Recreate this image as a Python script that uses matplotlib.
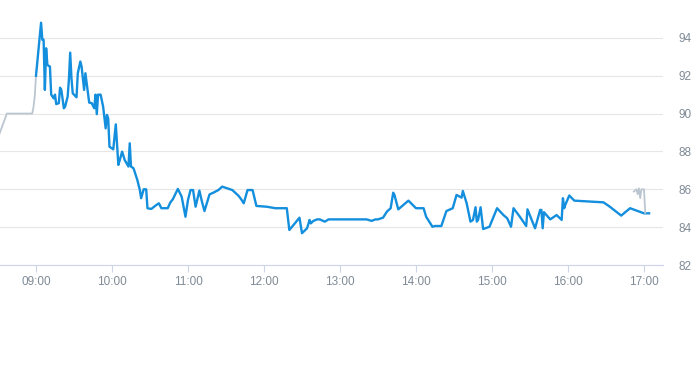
import matplotlib
matplotlib.use("Agg")
import matplotlib.pyplot as plt
import matplotlib.dates as mdates
import pandas as pd

# pre-market / after-hours part (grey)
pre_times = ["08:31", "08:37", "08:57", "08:58", "08:59", "09:00"]
pre_values = [88.9, 90.0, 90.0, 90.33, 90.9, 92.0]

post_times = ["16:52", "16:54", "16:55", "16:56", "16:57", "16:58", "17:00", "17:01"]
post_values = [85.88, 86.0, 85.74, 86.05, 85.53, 86.0, 86.0, 84.75]

# regular session (blue)
times = [
    "09:00", "09:04", "09:05", "09:06", "09:07", "09:08", "09:09", "09:11", "09:12", "09:14",
    "09:15", "09:16", "09:18", "09:19", "09:20", "09:22", "09:23", "09:25", "09:26", "09:27",
    "09:28", "09:29", "09:32", "09:33", "09:35", "09:36", "09:38", "09:39", "09:41", "09:42",
    "09:44", "09:46", "09:47", "09:48", "09:49", "09:51", "09:53", "09:55", "09:56", "09:57",
    "09:58", "10:01", "10:03", "10:05", "10:06", "10:08", "10:10", "10:13", "10:14", "10:15",
    "10:17", "10:20", "10:22", "10:23", "10:25", "10:27", "10:28", "10:31", "10:35", "10:37",
    "10:39", "10:44", "10:46", "10:48", "10:52", "10:55", "10:57", "10:58", "11:00", "11:02",
    "11:04", "11:06", "11:09", "11:11", "11:13", "11:17", "11:20", "11:24", "11:27", "11:31",
    "11:35", "11:40", "11:42", "11:44", "11:47", "11:51", "11:54", "12:02", "12:09", "12:18",
    "12:20", "12:24", "12:28", "12:30", "12:34", "12:36", "12:37", "12:39", "12:42", "12:44",
    "12:48", "12:51", "13:21", "13:25", "13:28", "13:30", "13:34", "13:37", "13:40", "13:42",
    "13:43", "13:46", "13:50", "13:54", "14:00", "14:06", "14:08", "14:13", "14:15", "14:20",
    "14:24", "14:29", "14:32", "14:36", "14:37", "14:40", "14:43", "14:45", "14:47", "14:48",
    "14:49", "14:51", "14:53", "14:58", "15:04", "15:09", "15:12", "15:15", "15:17", "15:22",
    "15:27", "15:28", "15:34", "15:38", "15:39", "15:40", "15:41", "15:46", "15:51", "15:55",
    "15:56", "15:57", "15:58", "16:01", "16:05", "16:28", "16:33", "16:42", "16:49", "17:00",
    "17:04",
]
values = [
    92.0, 94.8, 93.9, 93.9, 91.25, 93.45, 92.57, 92.48, 91.0, 90.8,
    91.0, 90.5, 90.55, 91.37, 91.25, 90.28, 90.37, 90.9, 91.83, 93.22,
    91.87, 91.07, 90.86, 92.13, 92.75, 92.48, 91.25, 92.13, 91.07, 90.58,
    90.55, 90.28, 91.0, 89.97, 91.0, 91.0, 90.37, 89.22, 89.93, 89.75,
    88.25, 88.11, 89.43, 87.29, 87.51, 87.99, 87.55, 87.2, 88.43, 87.2,
    87.11, 86.49, 85.96, 85.53, 86.0, 86.0, 85.0, 84.96, 85.17, 85.26,
    85.0, 85.0, 85.3, 85.47, 86.02, 85.61, 84.91, 84.55, 85.44, 85.96,
    85.96, 85.08, 85.93, 85.35, 84.85, 85.73, 85.82, 85.96, 86.14, 86.05,
    85.96, 85.65, 85.47, 85.26, 85.96, 85.96, 85.12, 85.08, 85.0, 85.0,
    83.85, 84.17, 84.5, 83.68, 83.94, 84.38, 84.2, 84.33, 84.41, 84.41,
    84.29, 84.41, 84.41, 84.33, 84.41, 84.41, 84.5, 84.82, 85.0, 85.82,
    85.7, 84.94, 85.17, 85.4, 85.0, 85.0, 84.55, 84.02, 84.06, 84.06,
    84.85, 85.0, 85.7, 85.56, 85.91, 85.26, 84.29, 84.38, 85.05, 84.29,
    84.38, 85.05, 83.9, 84.02, 85.0, 84.64, 84.47, 84.02, 85.0, 84.55,
    84.06, 84.94, 83.94, 84.91, 84.91, 83.94, 84.79, 84.41, 84.64, 84.38,
    85.53, 85.0, 85.2, 85.67, 85.4, 85.31, 85.08, 84.61, 85.0, 84.73,
    84.73,
]

y_ticks = [82, 84, 86, 88, 90, 92, 94]
x_ticks = ["09:00", "10:00", "11:00", "12:00", "13:00", "14:00", "15:00", "16:00", "17:00"]

DAY = "2024-01-02 "


def to_dt(ts):
    return pd.to_datetime([DAY + t for t in ts])


BLUE = "#138fdd"
GREY = "#bcc6d0"
LABEL = "#7f8a96"

fig = plt.figure(figsize=(6.93, 3.65), dpi=100)
ax = fig.add_axes([0.0, 100 / 365, 663 / 693, 265 / 365])

ax.plot(to_dt(pre_times), pre_values, color=GREY, lw=1.3, solid_joinstyle="round")
ax.plot(to_dt(times), values, color=BLUE, lw=1.7, solid_joinstyle="round")
ax.plot(to_dt(post_times), post_values, color=GREY, lw=1.3, solid_joinstyle="round")

ax.set_xlim(pd.Timestamp(DAY + "08:31:35"), pd.Timestamp(DAY + "17:15:00"))
ax.set_ylim(82, 96)

ax.set_yticks(y_ticks)
ax.set_xticks(to_dt(x_ticks))
ax.xaxis.set_major_formatter(mdates.DateFormatter("%H:%M"))

ax.yaxis.tick_right()
ax.tick_params(axis="y", length=0, pad=11.5, labelsize=8.5, labelcolor=LABEL)
ax.tick_params(axis="x", length=5, width=0.8, color="#ccd6eb", pad=3,
               labelsize=8.5, labelcolor=LABEL)
for lab in ax.get_yticklabels():
    lab.set_horizontalalignment("left")
for lab in ax.get_xticklabels() + ax.get_yticklabels():
    lab.set_fontfamily("Liberation Sans")

ax.grid(axis="y", color="#e6e6e6", lw=0.8)
ax.set_axisbelow(True)
for side in ["top", "left", "right"]:
    ax.spines[side].set_visible(False)
ax.spines["bottom"].set_color("#ccd6eb")
ax.spines["bottom"].set_linewidth(0.8)

fig.savefig("out.png", dpi=100)
